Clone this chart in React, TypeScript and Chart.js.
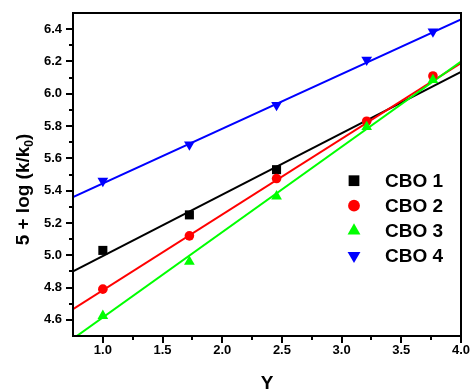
import React, { useEffect, useRef } from 'react';
import { Chart, registerables } from 'chart.js';

Chart.register(...registerables);

// ---- data ----
const xValues = [1.0, 1.725, 2.455, 3.21, 3.765];
const cbo1 = [5.03, 5.25, 5.53];
const cbo2 = [4.79, 5.12, 5.475, 5.83, 6.11];
const cbo3 = [4.625, 4.96, 5.365, 5.795, 6.085];
const cbo4 = [5.46, 5.685, 5.93, 6.21, 6.385];

const fitX = [0.75, 4.0];
const fit1 = [4.9, 6.135];
const fit2 = [4.666, 6.19];
const fit3 = [4.483, 6.2];
const fit4 = [5.36, 6.46];

const seriesNames = ['CBO 1', 'CBO 2', 'CBO 3', 'CBO 4'];
const seriesColors = ['#000000', '#ff0000', '#00ff00', '#0000ff'];
const pointStyles = ['rect', 'circle', 'triangle', 'triangle'];
const pointRotations = [0, 0, 0, 180];
const pointRadii = [6.4, 4.8, 6.2, 6.2];
const legendRadii = [7.6, 5.9, 7.4, 7.4];

const xMajorTicks = [1.0, 1.5, 2.0, 2.5, 3.0, 3.5, 4.0];
const xMinorTicks = [1.25, 1.75, 2.25, 2.75, 3.25, 3.75];
const yMajorTicks = [4.6, 4.8, 5.0, 5.2, 5.4, 5.6, 5.8, 6.0, 6.2, 6.4];
const yMinorTicks = [4.7, 4.9, 5.1, 5.3, 5.5, 5.7, 5.9, 6.1, 6.3];

const xTitle = 'Y';
const yTitleMain = '5 + log (k/k';
const yTitleSub = '0';
const yTitleEnd = ')';

const FONT = '"Liberation Sans", Arial, sans-serif';

const seriesValues = [cbo1, cbo2, cbo3, cbo4];
const fitValues = [fit1, fit2, fit3, fit4];

function drawMarker(ctx: CanvasRenderingContext2D, style: string, rotation: number, r: number, x: number, y: number) {
  ctx.beginPath();
  if (style === 'rect') {
    const s = Math.SQRT1_2 * r;
    ctx.rect(x - s, y - s, 2 * s, 2 * s);
  } else if (style === 'circle') {
    ctx.arc(x, y, r, 0, Math.PI * 2);
  } else {
    let rad = (rotation * Math.PI) / 180;
    ctx.moveTo(x + Math.sin(rad) * r, y - Math.cos(rad) * r);
    rad += (2 * Math.PI) / 3;
    ctx.lineTo(x + Math.sin(rad) * r, y - Math.cos(rad) * r);
    rad += (2 * Math.PI) / 3;
    ctx.lineTo(x + Math.sin(rad) * r, y - Math.cos(rad) * r);
    ctx.closePath();
  }
  ctx.fill();
}

const decorPlugin = {
  id: 'decor',
  afterDraw(chart: any) {
    const { ctx, chartArea } = chart;
    const xs = chart.scales.x;
    const ys = chart.scales.y;
    const { left, right, top, bottom } = chartArea;
    ctx.save();
    // frame
    ctx.strokeStyle = '#000';
    ctx.lineWidth = 2;
    ctx.strokeRect(left, top, right - left, bottom - top);
    // ticks
    ctx.beginPath();
    xMajorTicks.forEach((v) => {
      const p = Math.round(xs.getPixelForValue(v));
      ctx.moveTo(p, bottom);
      ctx.lineTo(p, bottom + 7);
    });
    xMinorTicks.forEach((v) => {
      const p = Math.round(xs.getPixelForValue(v));
      ctx.moveTo(p, bottom);
      ctx.lineTo(p, bottom + 4);
    });
    yMajorTicks.forEach((v) => {
      const p = Math.round(ys.getPixelForValue(v));
      ctx.moveTo(left, p);
      ctx.lineTo(left - 7, p);
    });
    yMinorTicks.forEach((v) => {
      const p = Math.round(ys.getPixelForValue(v));
      ctx.moveTo(left, p);
      ctx.lineTo(left - 4, p);
    });
    ctx.stroke();

    // x title
    ctx.fillStyle = '#000';
    ctx.font = `bold 19px ${FONT}`;
    ctx.textAlign = 'center';
    ctx.textBaseline = 'alphabetic';
    ctx.fillText(xTitle, (left + right) / 2, 389);

    // y title (rotated, with subscript)
    const mainFont = `bold 19px ${FONT}`;
    const subFont = `bold 12px ${FONT}`;
    ctx.font = mainFont;
    const w1 = ctx.measureText(yTitleMain).width;
    const w3 = ctx.measureText(yTitleEnd).width;
    ctx.font = subFont;
    const w2 = ctx.measureText(yTitleSub).width;
    const total = w1 + w2 + w3;
    ctx.translate(29, 189.5);
    ctx.rotate(-Math.PI / 2);
    ctx.textAlign = 'left';
    let cx = -total / 2;
    ctx.font = mainFont;
    ctx.fillText(yTitleMain, cx, 0);
    cx += w1;
    ctx.font = subFont;
    ctx.fillText(yTitleSub, cx, 4);
    cx += w2;
    ctx.font = mainFont;
    ctx.fillText(yTitleEnd, cx, 0);
    ctx.restore();

    // legend
    ctx.save();
    const lx = 354;
    const ly0 = 180.7;
    const dy = 25;
    seriesNames.forEach((name, i) => {
      const y = ly0 + dy * i;
      ctx.fillStyle = seriesColors[i];
      drawMarker(ctx, pointStyles[i], pointRotations[i], legendRadii[i], lx, y);
      ctx.fillStyle = '#000';
      ctx.font = `bold 19px ${FONT}`;
      ctx.textAlign = 'left';
      ctx.textBaseline = 'middle';
      ctx.fillText(name, 385, y + 1);
    });
    ctx.restore();
  },
};

export default function App() {
  const canvasRef = useRef<HTMLCanvasElement | null>(null);

  useEffect(() => {
    if (!canvasRef.current) return;
    const datasets: any[] = [];
    fitValues.forEach((vals, i) => {
      datasets.push({
        label: seriesNames[i] + ' fit',
        data: vals.map((v, j) => ({ x: fitX[j], y: v })),
        showLine: true,
        borderColor: seriesColors[i],
        backgroundColor: seriesColors[i],
        borderWidth: 2,
        pointRadius: 0,
        order: 20 - i,
      });
    });
    seriesValues.forEach((vals, i) => {
      datasets.push({
        label: seriesNames[i],
        data: vals.map((v, j) => ({ x: xValues[j], y: v })),
        showLine: false,
        borderColor: seriesColors[i],
        backgroundColor: seriesColors[i],
        pointStyle: pointStyles[i],
        rotation: pointRotations[i],
        pointRadius: pointRadii[i],
        pointBorderWidth: 0,
        order: 10 - i,
      });
    });

    const tickFont = { family: FONT, size: 13, weight: 'bold' as const };

    const chart = new Chart(canvasRef.current, {
      type: 'scatter',
      data: { datasets },
      options: {
        animation: false,
        responsive: false,
        devicePixelRatio: 1,
        layout: { padding: { left: 0, top: 13, right: 11, bottom: 0 } },
        plugins: {
          legend: { display: false },
          tooltip: { enabled: false },
        },
        scales: {
          x: {
            type: 'linear',
            min: 0.75,
            max: 4.0,
            afterFit: (s: any) => {
              s.height = 54;
              s.paddingLeft = 0;
              s.paddingRight = 0;
            },
            afterBuildTicks: (s: any) => {
              s.ticks = xMajorTicks.map((v) => ({ value: v }));
            },
            ticks: {
              callback: (v: any) => Number(v).toFixed(1),
              font: tickFont,
              color: '#000',
              padding: 7,
              maxRotation: 0,
              autoSkip: false,
            },
            grid: { display: false, drawTicks: false },
            border: { display: false },
          },
          y: {
            type: 'linear',
            min: 4.5,
            max: 6.5,
            afterFit: (s: any) => {
              s.width = 73;
              s.paddingTop = 0;
              s.paddingBottom = 0;
            },
            afterBuildTicks: (s: any) => {
              s.ticks = yMajorTicks.map((v) => ({ value: v }));
            },
            ticks: {
              callback: (v: any) => Number(v).toFixed(1),
              font: tickFont,
              color: '#000',
              padding: 11,
              autoSkip: false,
            },
            grid: { display: false, drawTicks: false },
            border: { display: false },
          },
        },
      } as any,
      plugins: [decorPlugin],
    });
    return () => chart.destroy();
  }, []);

  return (
    <div style={{ position: 'fixed', left: 0, top: 0, width: 472, height: 390, background: '#fff' }}>
      <canvas ref={canvasRef} width={472} height={390} style={{ width: 472, height: 390, display: 'block' }} />
    </div>
  );
}
